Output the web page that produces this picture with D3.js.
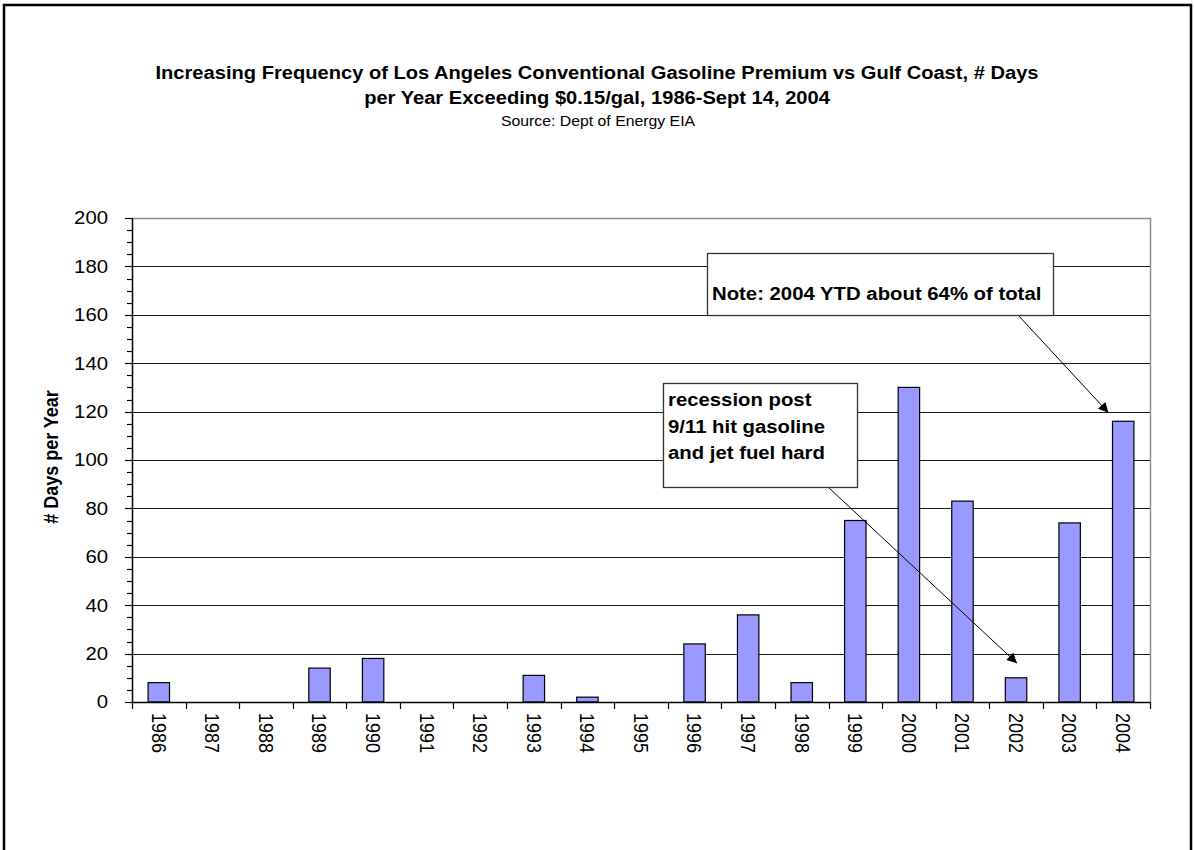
<!DOCTYPE html>
<html>
<head>
<meta charset="utf-8">
<script src="https://cdn.jsdelivr.net/npm/d3@7"></script>
<style>
  html, body { margin: 0; padding: 0; background: #fff; }
  svg { display: block; font-family: "Liberation Sans", Arial, sans-serif; }
</style>
</head>
<body>
<svg id="chart" width="1194" height="850"></svg>
<script>
// Days per year that the LA conventional gasoline premium over Gulf Coast exceeded $0.15/gal
const years = ["1986","1987","1988","1989","1990","1991","1992","1993","1994","1995",
               "1996","1997","1998","1999","2000","2001","2002","2003","2004"];
const daysOver = [8, 0, 0, 14, 18, 0, 0, 11, 2, 0, 24, 36, 8, 75, 130, 83, 10, 74, 116];
const yTicks = [0, 20, 40, 60, 80, 100, 120, 140, 160, 180, 200];

const titleLines = [
  "Increasing Frequency of Los Angeles Conventional Gasoline Premium vs Gulf Coast, # Days",
  "per Year Exceeding $0.15/gal, 1986-Sept 14, 2004"
];
const sourceText = "Source: Dept of Energy EIA";
const yLabel = "# Days per Year";
const noteText = ["Note: 2004 YTD about 64% of total"];
const recessionText = ["recession post", "9/11 hit gasoline", "and jet fuel hard"];

const svg = d3.select("#chart");
const SX = 1.13; // glyphs are drawn slightly wide

function place(sel, px, py, rot) {
  sel.attr("transform", `translate(${px},${py}) scale(${SX},1)` + (rot ? ` rotate(${rot})` : ""));
  return sel;
}

// outer frame
svg.append("rect")
  .attr("x", 4).attr("y", 5).attr("width", 1187).attr("height", 1000)
  .attr("fill", "none").attr("stroke", "#000").attr("stroke-width", 2.5);

// title block
titleLines.forEach((t, i) => {
  place(svg.append("text"), 597, 79 + i * 25, 0)
    .attr("text-anchor", "middle").attr("font-size", 17.8).attr("font-weight", "bold")
    .attr("fill", "#000").text(t);
});
place(svg.append("text"), 598, 126, 0)
  .attr("text-anchor", "middle").attr("font-size", 14).attr("fill", "#000").text(sourceText);

// scales
const plotLeft = 132, plotRight = 1150, plotTop = 218, plotBottom = 702;
const x = d3.scaleBand().domain(years).range([plotLeft, plotRight]).paddingInner(0.6).paddingOuter(0.3);
const y = d3.scaleLinear().domain([0, 200]).range([plotBottom, plotTop]);
const step = x.step();

// gridlines
svg.append("g").selectAll("line")
  .data(yTicks.filter(v => v > 0 && v < 200))
  .join("line")
  .attr("x1", plotLeft).attr("x2", plotRight)
  .attr("y1", d => Math.round(y(d)) + 0.5).attr("y2", d => Math.round(y(d)) + 0.5)
  .attr("stroke", "#1a1a1a").attr("stroke-width", 1.2);

// plot area border (top and right)
svg.append("path")
  .attr("d", `M${plotLeft},${Math.round(y(200)) + 0.5}H${plotRight + 0.5}V${plotBottom}`)
  .attr("fill", "none").attr("stroke", "#8c8c8c").attr("stroke-width", 1.5);

// bars
svg.append("g").selectAll("rect")
  .data(years.map((yr, i) => ({ yr, v: daysOver[i] })).filter(d => d.v > 0))
  .join("rect")
  .attr("x", d => x(d.yr)).attr("width", x.bandwidth())
  .attr("y", d => y(d.v)).attr("height", d => y(0) - y(d.v))
  .attr("fill", "#9999ff").attr("stroke", "#000").attr("stroke-width", 1.2);

// y axis with minor ticks
const yAxis = svg.append("g");
yAxis.append("line")
  .attr("x1", plotLeft + 0.5).attr("x2", plotLeft + 0.5).attr("y1", plotTop).attr("y2", plotBottom)
  .attr("stroke", "#000").attr("stroke-width", 1.5);
yAxis.selectAll("line.minor")
  .data(d3.range(0, 201, 5))
  .join("line").attr("class", "minor")
  .attr("x1", d => d % 20 === 0 ? plotLeft - 7 : plotLeft - 5).attr("x2", plotLeft)
  .attr("y1", d => Math.round(y(d)) + 0.5).attr("y2", d => Math.round(y(d)) + 0.5)
  .attr("stroke", "#000").attr("stroke-width", 1.2);
yAxis.selectAll("text")
  .data(yTicks)
  .join("text")
  .each(function (d) { place(d3.select(this), 108, y(d), 0); })
  .attr("dy", "0.35em").attr("text-anchor", "end")
  .attr("font-size", 18).attr("fill", "#000").text(d => d);

place(svg.append("text"), 51, 457, -90)
  .attr("text-anchor", "middle").attr("dy", "0.35em")
  .attr("font-size", 18).attr("font-weight", "bold").attr("fill", "#000").text(yLabel);

// x axis: ticks between categories, rotated labels
const xAxis = svg.append("g");
xAxis.append("line")
  .attr("x1", plotLeft).attr("x2", plotRight).attr("y1", plotBottom + 0.5).attr("y2", plotBottom + 0.5)
  .attr("stroke", "#000").attr("stroke-width", 1.5);
const bounds = years.map(d => x(d) - step * 0.3).concat([plotRight]);
xAxis.selectAll("line.tick")
  .data(bounds)
  .join("line").attr("class", "tick")
  .attr("x1", d => Math.round(d) + 0.5).attr("x2", d => Math.round(d) + 0.5)
  .attr("y1", plotBottom).attr("y2", plotBottom + 7)
  .attr("stroke", "#000").attr("stroke-width", 1.2);
xAxis.selectAll("text")
  .data(years)
  .join("text")
  .each(function (d) { place(d3.select(this), x(d) + x.bandwidth() / 2, 713, 90); })
  .attr("dy", "0.35em").attr("text-anchor", "start")
  .attr("font-size", 18).attr("fill", "#000").text(d => d);

// arrowhead
svg.append("defs").append("marker")
  .attr("id", "head").attr("viewBox", "0 0 10 10")
  .attr("refX", 10).attr("refY", 5)
  .attr("markerWidth", 14).attr("markerHeight", 10)
  .attr("markerUnits", "userSpaceOnUse").attr("orient", "auto")
  .append("path").attr("d", "M0,0L10,5L0,10Z").attr("fill", "#000");

// callouts
function callout(box, lines, baselines, from, to) {
  svg.append("line")
    .attr("x1", from[0]).attr("y1", from[1]).attr("x2", to[0]).attr("y2", to[1])
    .attr("stroke", "#000").attr("stroke-width", 1).attr("marker-end", "url(#head)");
  svg.append("rect")
    .attr("x", box.x + 0.5).attr("y", box.y + 0.5).attr("width", box.w).attr("height", box.h)
    .attr("fill", "#fff").attr("stroke", "#333").attr("stroke-width", 1.3);
  lines.forEach((t, i) => {
    place(svg.append("text"), box.x + 5, baselines[i], 0)
      .attr("font-size", 18).attr("font-weight", "bold").attr("fill", "#000").text(t);
  });
}

callout({ x: 707, y: 253, w: 346, h: 62 }, noteText, [300],
  [1018, 315], [x("2004") - 4, y(119.5)]);
callout({ x: 663, y: 383, w: 194, h: 104 }, recessionText, [406, 433, 459],
  [828, 487], [x("2002") + x.bandwidth() / 2 + 1, y(16)]);
</script>
</body>
</html>
